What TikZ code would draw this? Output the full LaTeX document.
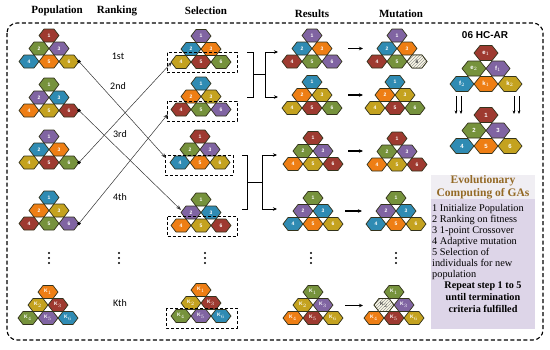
\documentclass[tikz,border=0pt]{standalone}
\usepackage{fontspec}
\setmainfont{Liberation Serif}
\setsansfont{Liberation Sans}
\newfontfamily\calib{Carlito}
\usetikzlibrary{arrows.meta,patterns}
\definecolor{cR}{HTML}{9E3A30}
\definecolor{cG}{HTML}{76923C}
\definecolor{cP}{HTML}{8064A2}
\definecolor{cB}{HTML}{2F8BB3}
\definecolor{cO}{HTML}{EE7E14}
\definecolor{cY}{HTML}{C4A21F}
\definecolor{hexline}{HTML}{33331C}
\definecolor{titlebrown}{HTML}{946A26}
\definecolor{lav}{HTML}{DDD5E8}
\definecolor{lavtop}{HTML}{F0EEF3}
\definecolor{hatchbg}{HTML}{FAF8E6}
\newcount\hexn
\def\hw{10}\def\hh{6.5}\def\sx{20}\def\sy{13}
\newcommand\hexpath[2]{(#1-\hw,#2) -- (#1-\hw/2,#2-\hh) -- (#1+\hw/2,#2-\hh) -- (#1+\hw,#2) -- (#1+\hw/2,#2+\hh) -- (#1-\hw/2,#2+\hh) -- cycle}
\newcommand\hx[4]{\global\advance\hexn by 1
  \filldraw[hexs,fill=#3] \hexpath{#1}{#2};
  \node[hexl] (hx\the\hexn) at (#1,#2) {#4};}
\newcommand\hxh[3]{\global\advance\hexn by 1
  \fill[hatchbg] \hexpath{#1}{#2};
  \fill[pattern=north east lines,pattern color=gray!80] \hexpath{#1}{#2};
  \draw[hexs] \hexpath{#1}{#2};
  \node[hexl,text=black!75] (hx\the\hexn) at (#1,#2) {#3};}
\newcommand\tri[9]{%
  \hx{#1}{#2}{#3}{#9{1}}
  \hx{#1-\sx/2}{#2+\sy}{#4}{#9{2}}
  \hx{#1+\sx/2}{#2+\sy}{#5}{#9{3}}
  \hx{#1-\sx}{#2+2*\sy}{#6}{#9{4}}
  \hx{#1}{#2+2*\sy}{#7}{#9{5}}
  \hx{#1+\sx}{#2+2*\sy}{#8}{#9{6}}}
\newcommand\nl[1]{#1}
\newcommand\kl[1]{K$_{#1}$}
\newcommand\ek[1]{\ifcase#1\or e$_1$\or e$_2$\or f$_1$\or f$_2$\or k$_1$\or k$_2$\fi}
\begin{document}
\begin{tikzpicture}[x=1pt,y=-1pt,
  hexs/.style={draw=hexline,line width=0.7pt,line join=round},
  hexl/.style={text=white,font=\sffamily\bfseries\fontsize{5}{5}\selectfont,inner sep=0pt},
  head/.style={font=\bfseries\fontsize{11}{12}\selectfont},
  rank/.style={font=\calib\fontsize{10}{11}\selectfont},
  dotn/.style={circle,fill=black,inner sep=0pt,minimum size=3.6pt},
  conn/.style={draw=black!80,line width=0.5pt,-{Stealth[length=5pt,width=3.5pt]}},
  selbox/.style={draw=black,dashed,dash pattern=on 3pt off 2pt,line width=0.8pt},
  brk/.style={draw=black,line width=1pt},
  brka/.style={draw=black,line width=1pt,-{Stealth[length=4pt,width=3.5pt]}},
  marr/.style={draw=black,line width=1.1pt,-{Stealth[length=4pt,width=3.5pt]}},
  darr/.style={draw=black,line width=0.7pt,-{Stealth[length=3.5pt,width=2.8pt]}},
  vd/.style={circle,fill=black,inner sep=0pt,minimum size=2.4pt},
  lst/.style={anchor=base west,inner sep=0pt,font=\fontsize{10.3}{11}\selectfont},
  rep/.style={anchor=base,inner sep=0pt,font=\bfseries\fontsize{10.2}{11}\selectfont}]
\useasboundingbox (0,0) rectangle (550,349);
% frame
\draw[dashed,dash pattern=on 4pt off 2.5pt,line width=1.1pt,rounded corners=10pt] (7,23) rectangle (543,340);
% headers
\node[head] (hPop) at (57,11) {Population};
\node[head] (hRank) at (117,11) {Ranking};
\node[head] (hSel) at (206,11) {Selection};
\node[head] (hRes) at (312,14) {Results};
\node[head] (hMut) at (401,14) {Mutation};
% ranking labels
\node[rank] (r1) at (118,56) {1st};
\node[rank] (r2) at (118,86) {2nd};
\node[rank] (r3) at (120,134) {3rd};
\node[rank] (r4) at (120,197) {4th};
\node[rank] (rk) at (120,303) {Kth};
% population
\tri{49}{35.5}{cR}{cG}{cP}{cB}{cO}{cY}{\nl}
\tri{49}{84.5}{cG}{cP}{cB}{cO}{cY}{cR}{\nl}
\tri{49}{136.5}{cP}{cB}{cO}{cY}{cR}{cG}{\nl}
\tri{49}{197.5}{cB}{cO}{cY}{cR}{cG}{cP}{\nl}
\tri{48}{292}{cO}{cY}{cR}{cG}{cP}{cB}{\kl}
% selection
\tri{201}{36}{cP}{cB}{cO}{cY}{cR}{cG}{\nl}
\tri{201}{83.5}{cB}{cO}{cY}{cR}{cG}{cP}{\nl}
\tri{200}{136.5}{cR}{cG}{cP}{cB}{cO}{cY}{\nl}
\tri{201}{199.5}{cG}{cP}{cB}{cO}{cY}{cR}{\nl}
\tri{201}{290}{cO}{cY}{cR}{cG}{cP}{cB}{\kl}
\draw[selbox] (167,52.5) rectangle (237,72.5);
\draw[selbox] (167,101) rectangle (237,121);
\draw[selbox] (165,155) rectangle (233,175);
\draw[selbox] (167,216.5) rectangle (237,236);
\draw[selbox] (166,308) rectangle (237,328);
% results
\tri{312}{35.5}{cP}{cB}{cO}{cR}{cG}{cP}{\nl}
\tri{312}{82}{cB}{cO}{cY}{cY}{cR}{cG}{\nl}
\tri{313}{138}{cR}{cG}{cP}{cO}{cY}{cR}{\nl}
\tri{313}{198}{cG}{cP}{cB}{cB}{cO}{cY}{\nl}
\tri{313}{292}{cG}{cY}{cP}{cO}{cR}{cY}{\kl}
% mutation
\tri{397}{35.5}{cP}{cB}{cO}{cR}{cG}{cP}{\nl}
\hxh{417}{61.5}{6}
\tri{395}{82}{cB}{cO}{cY}{cY}{cR}{cG}{\nl}
\tri{397}{138.5}{cR}{cG}{cP}{cO}{cY}{cR}{\nl}
\tri{396}{198}{cG}{cP}{cB}{cB}{cO}{cY}{\nl}
\tri{394}{292}{cG}{cY}{cP}{cO}{cR}{cY}{\kl}
\hxh{384}{305}{K$_2$}
% result -> mutation arrows
\coordinate (ra1) at (348,48.5); \coordinate (ma1) at (363,48.5);
\coordinate (ra2) at (348,95); \coordinate (ma2) at (363,95);
\coordinate (ra3) at (348,151); \coordinate (ma3) at (363,151);
\coordinate (ra4) at (345,211); \coordinate (ma4) at (362,211);
\coordinate (ra5) at (345,305.5); \coordinate (ma5) at (363,305.5);
\foreach \i in {1,...,5} {\draw[marr] (ra\i) -- (ma\i);}
% vertical dots
\foreach \x [count=\j] in {49,119,205,311,396} {
  \node[vd] (va\j) at (\x,253) {};
  \node[vd] (vb\j) at (\x,258) {};
  \node[vd] (vc\j) at (\x,263) {};
}
% connectors
\node[dotn] (p1) at (79,61.5) {};
\node[dotn] (p2) at (79,110.5) {};
\node[dotn] (p3) at (79,162.5) {};
\node[dotn] (p4) at (79,223.5) {};
\coordinate (s1in) at (172,62);
\coordinate (s2in) at (168,114);
\coordinate (s3in) at (166,158);
\coordinate (s4in) at (181,210);
\draw[conn] (p1.center) -- (s3in);
\draw[conn] (p2.center) -- (s4in);
\draw[conn] (p3.center) -- (s1in);
\draw[conn] (p4.center) -- (s2in);
% bracket 1
\coordinate (b1a) at (247,52); \coordinate (b1b) at (253,52);
\coordinate (b1c) at (253,97); \coordinate (b1d) at (247,97);
\coordinate (b1m) at (253,74.5); \coordinate (b1n) at (265,74.5);
\coordinate (b1t) at (265,52); \coordinate (b1u) at (265,97);
\coordinate (b1x) at (278,52); \coordinate (b1y) at (278,97);
\draw[brk] (b1a) -- (b1b) -- (b1c) -- (b1d);
\draw[brk] (b1m) -- (b1n);
\draw[brk] (b1t) -- (b1u);
\draw[brka] (b1t) -- (b1x);
\draw[brka] (b1u) -- (b1y);
% bracket 2
\coordinate (b2a) at (242,155); \coordinate (b2b) at (247,155);
\coordinate (b2c) at (247,209); \coordinate (b2d) at (242,209);
\coordinate (b2m) at (247,182); \coordinate (b2n) at (262,182);
\coordinate (b2t) at (262,155); \coordinate (b2u) at (262,209);
\coordinate (b2x) at (277,155); \coordinate (b2y) at (277,209);
\draw[brk] (b2a) -- (b2b) -- (b2c) -- (b2d);
\draw[brk] (b2m) -- (b2n);
\draw[brk] (b2t) -- (b2u);
\draw[brka] (b2t) -- (b2x);
\draw[brka] (b2u) -- (b2y);
% HC-AR panel
\node[font=\sffamily\bfseries\fontsize{10}{11}\selectfont] (hcar) at (485,35) {06 HC-AR};
\begin{scope}[hexl/.style={text=white,font=\sffamily\bfseries\fontsize{6}{6}\selectfont,inner sep=0pt}]
\def\hw{12}\def\hh{7.5}\def\sx{24}\def\sy{15.5}
\tri{486}{53}{cR}{cG}{cP}{cB}{cO}{cY}{\ek}
\tri{486}{115}{cR}{cG}{cP}{cB}{cO}{cY}{\nl}
\end{scope}
\coordinate (da1) at (456,96); \coordinate (db1) at (456,114);
\coordinate (da2) at (461,96); \coordinate (db2) at (461,114);
\coordinate (da3) at (514,96); \coordinate (db3) at (514,114);
\coordinate (da4) at (519,96); \coordinate (db4) at (519,114);
\foreach \i in {1,...,4} {\draw[darr] (da\i) -- (db\i);}
% info box
\fill[lavtop] (431,175) rectangle (535,199);
\fill[lav] (431,199) rectangle (535,329);
\node[text=titlebrown,font=\bfseries\fontsize{11.5}{13}\selectfont,align=center] (evo) at (483,187) {Evolutionary\\Computing of GAs};
\node[lst] (l1) at (432,211.5) {1 Initialize Population};
\node[lst] (l2) at (432,222.5) {2 Ranking on fitness};
\node[lst] (l3) at (432,233.5) {3 1-point Crossover};
\node[lst] (l4) at (432,244.5) {4 Adaptive mutation};
\node[lst] (l5) at (432,255.5) {5 Selection of};
\node[lst] (l6) at (432,266.5) {individuals for new};
\node[lst] (l7) at (432,277.5) {population};
\node[rep] (rp1) at (483,288) {Repeat step 1 to 5};
\node[rep] (rp2) at (483,300) {until termination};
\node[rep] (rp3) at (483,312) {criteria fulfilled};
\end{tikzpicture}
\end{document}
